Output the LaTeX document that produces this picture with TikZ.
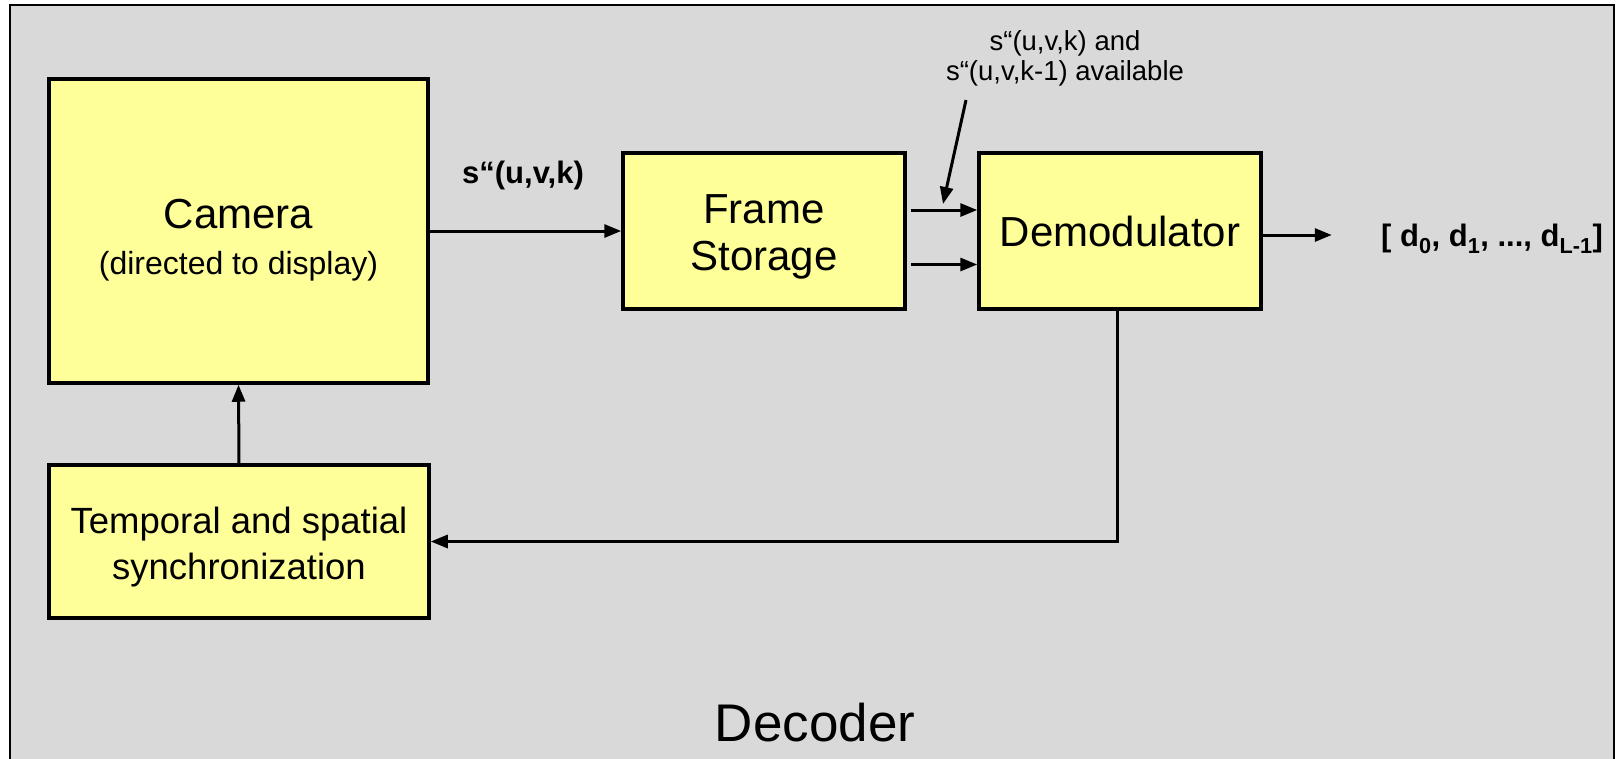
\documentclass[tikz,border=0pt]{standalone}
\usepackage{fontspec}
\setmainfont{Liberation Sans}
\usetikzlibrary{arrows.meta}
\definecolor{bggray}{HTML}{D9D9D9}
\definecolor{boxyellow}{HTML}{FFFF99}
\tikzset{
  box/.style={draw=black, line width=3.5pt, fill=boxyellow, inner sep=0pt, align=center},
  arr/.style={line width=3pt, -{Triangle[length=17pt,width=13pt]}},
  big/.style={font=\fontsize{42pt}{47pt}\selectfont},
}
\begin{document}
\begin{tikzpicture}[x=1pt,y=-1pt]
\useasboundingbox (0,0) rectangle (1620,758);
\clip (0,0) rectangle (1620,758);
\fill[white] (0,0) rectangle (1620,758);
\draw[line width=2pt, fill=bggray] (10,5) rectangle (1614,780);

\node[box, minimum width=379pt, minimum height=304pt,
      font=\fontsize{32pt}{46pt}\selectfont] (cam) at (238.5,231)
  {\rule{0pt}{48pt}{\fontsize{42pt}{46pt}\selectfont Camera}\\(directed to display)};
\node[box, big, minimum width=282pt, minimum height=156pt] (fs) at (764,231)
  {\rule{0pt}{40.5pt}Frame\\Storage};
\node[box, big, minimum width=282pt, minimum height=156pt] (dem) at (1120,231)
  {Demodulator};
\node[box, minimum width=380pt, minimum height=153pt,
      font=\fontsize{36.5pt}{46pt}\selectfont] (sync) at (239,541.5)
  {\rule{0pt}{37pt}Temporal and spatial\\synchronization};

\node[font=\bfseries\fontsize{31pt}{36pt}\selectfont, inner sep=0pt] (slab) at (523,175) {s“(u,v,k)};
\node[font=\fontsize{27.5pt}{30pt}\selectfont, align=center, inner sep=0pt] (avail) at (1065,58)
  {s“(u,v,k) and\\s“(u,v,k-1) available};
\node[font=\bfseries\fontsize{31pt}{36pt}\selectfont, inner sep=0pt, anchor=west] (out) at (1381,239)
  {[ d\textsubscript{0}, d\textsubscript{1}, ..., d\textsubscript{L-1}]};
\node[font=\fontsize{53pt}{60pt}\selectfont, inner sep=0pt] (dec) at (815,723) {Decoder};

\coordinate (availfrom) at (966,100);
\coordinate (availtip) at (943,204);

\draw[arr] (cam.east) -- (fs.west);
\draw[arr] ([xshift=4pt,yshift=21pt]fs.east) -- ([yshift=21pt]dem.west);
\draw[arr] ([xshift=4pt,yshift=-33.5pt]fs.east) -- ([yshift=-33.5pt]dem.west);
\draw[arr] (availfrom) -- (availtip);
\draw[arr] ([yshift=-4pt]dem.east) -- ++(69,0);
\draw[arr] ([xshift=-3pt]dem.south) |- (sync.east);
\draw[arr] (sync.north) -- (cam.south);
\end{tikzpicture}
\end{document}
